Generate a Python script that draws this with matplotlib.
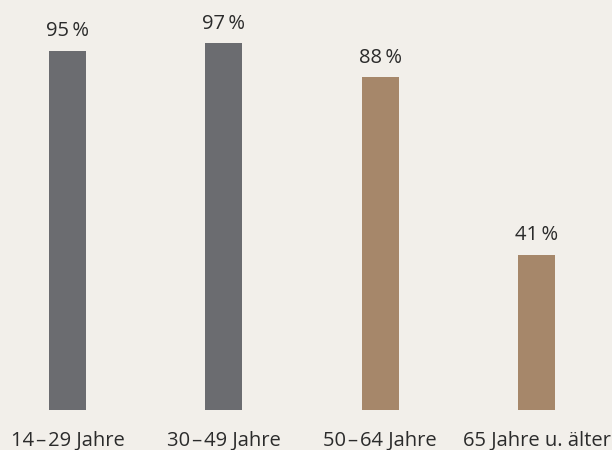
import matplotlib.pyplot as plt
import numpy as np

plt.rcParams['font.family'] = ['Open Sans', 'DejaVu Sans']

categories = ['14\u200a\u2013\u200a29 Jahre', '30\u200a\u2013\u200a49 Jahre',
              '50\u200a\u2013\u200a64 Jahre', '65 Jahre u. älter']
values = [95, 97, 88, 41]
colors = ['#6b6c70', '#6b6c70', '#a6876a', '#a6876a']
bg = '#f2efea'

fig = plt.figure(figsize=(6.12, 4.5), dpi=100, facecolor=bg)
ax = fig.add_axes([0, 40 / 450, 1, 378 / 450])
ax.set_facecolor(bg)

x = np.arange(len(categories))
bars = ax.bar(x, values, width=0.237, color=colors)

for xi, v in zip(x, values):
    ax.annotate(f'{v}\u2009%', (xi, v), xytext=(0, 7), textcoords='offset points',
                ha='center', va='bottom', fontsize=14.5, color='#2b2b2b')

ax.set_xlim(-67.5 / 156.33, (612 - 67.5) / 156.33)
ax.set_ylim(0, 100)
ax.set_xticks(x)
ax.set_xticklabels(categories, fontsize=14.5, color='#2b2b2b')
ax.tick_params(axis='x', length=0, pad=15)
ax.set_yticks([])
for s in ax.spines.values():
    s.set_visible(False)

plt.savefig('out.png', dpi=100, facecolor=bg)
